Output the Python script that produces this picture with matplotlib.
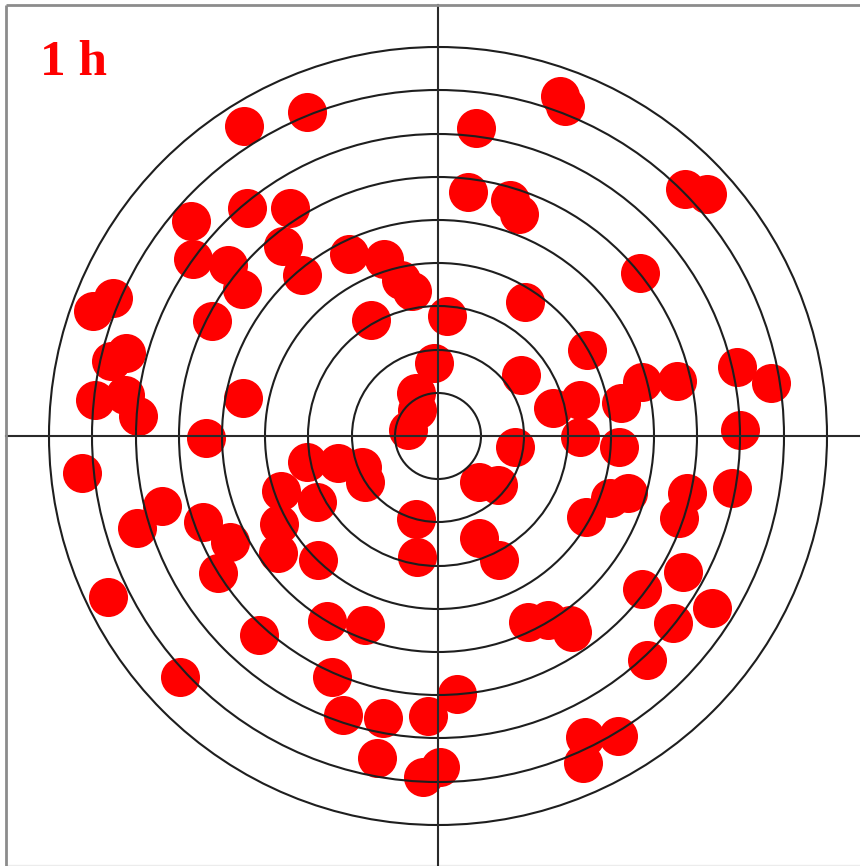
import matplotlib
matplotlib.use("Agg")
import matplotlib.pyplot as plt
from matplotlib.patches import Circle

# Hit positions relative to the target centre (x to the right, y upwards)
hit_x = [
    -194, -131, -247, -191, -148, -245, -210, -196, -155, -136, -89, -54, -37, -26,
    -345, -325, -226, -327, -312, -343, -313, -300, -195, -232, -67, -4, -22, -21, -30,
    38, 122, 127, 30, 72, 81, 9, 87, 247, 269, 202, 149, 83, 115, 142, 183, 204, 239,
    299, 333, 302, 142, 181, 77,
    -356, -301, -276, -235, -208, -220, -330, -258, -179, -131, -100, -76, -73, -157,
    -121, -159, -160, -120, -111, -73, -106, -95, -55, -61, -10, 19, 2, -15, -22, -21,
    41, 60, 41, 61, 148, 172, 190, 249, 241, 294, 245, 204, 235, 274, 209, 90, 110,
    132, 134, 147, 180, 145,
]
hit_y = [
    310, 324, 215, 228, 228, 177, 171, 147, 190, 161, 182, 177, 156, 145,
    125, 138, 115, 75, 83, 36, 41, 20, 38, -2, 116, 73, 43, 26, 6,
    308, 340, 330, 244, 236, 222, 120, 134, 247, 242, 163, 86, 61, 28, 36, 33, 54, 55,
    69, 53, 6, -1, -11, -11,
    -37, -92, -70, -86, -106, -137, -161, -241, -199, -26, -27, -31, -46, -55,
    -66, -88, -117, -124, -185, -189, -241, -279, -282, -322, -280, -258, -331, -341, -83, -121,
    -46, -49, -102, -124, -81, -62, -57, -57, -82, -52, -136, -153, -187, -172, -224, -186, -184,
    -189, -196, -301, -300, -327,
]

# Scoring ring radii
ring_radii = [43, 86, 130, 173, 216, 259, 302, 346, 389]

label_text = "1 h"

fig = plt.figure(figsize=(8.6, 8.66), dpi=100)
ax = fig.add_axes([0, 0, 1, 1])
ax.set_xlim(-438, 422)
ax.set_ylim(-430, 436)
ax.set_aspect("equal")
ax.axis("off")

# hits
ax.scatter(hit_x, hit_y, s=790, color="#ff0000", linewidths=0, zorder=2)

# rings
for r in ring_radii:
    ax.add_patch(Circle((0, 0), r, fill=False, edgecolor="#1e1e1e", lw=1.5, zorder=3))

# crosshair
ax.plot([-432, 422], [0, 0], color="#2a2a2a", lw=1.5, zorder=3)
ax.plot([0, 0], [431, -430], color="#2a2a2a", lw=1.5, zorder=3)

# frame edges
ax.plot([-432, 422], [431, 431], color="#8c8c8c", lw=2.0, zorder=3, solid_capstyle="butt")
ax.plot([-432, -432], [431, -430], color="#8c8c8c", lw=2.0, zorder=3, solid_capstyle="butt")
ax.plot([-432, 422], [-429, -429], color="#ececec", lw=1.0, zorder=1)

ax.text(-398, 361, label_text, color="#ff0000", fontsize=37, fontweight="bold",
        family=["Liberation Serif", "DejaVu Serif"], ha="left", va="baseline", zorder=4)

fig.savefig("out.png", dpi=100, facecolor="white")
